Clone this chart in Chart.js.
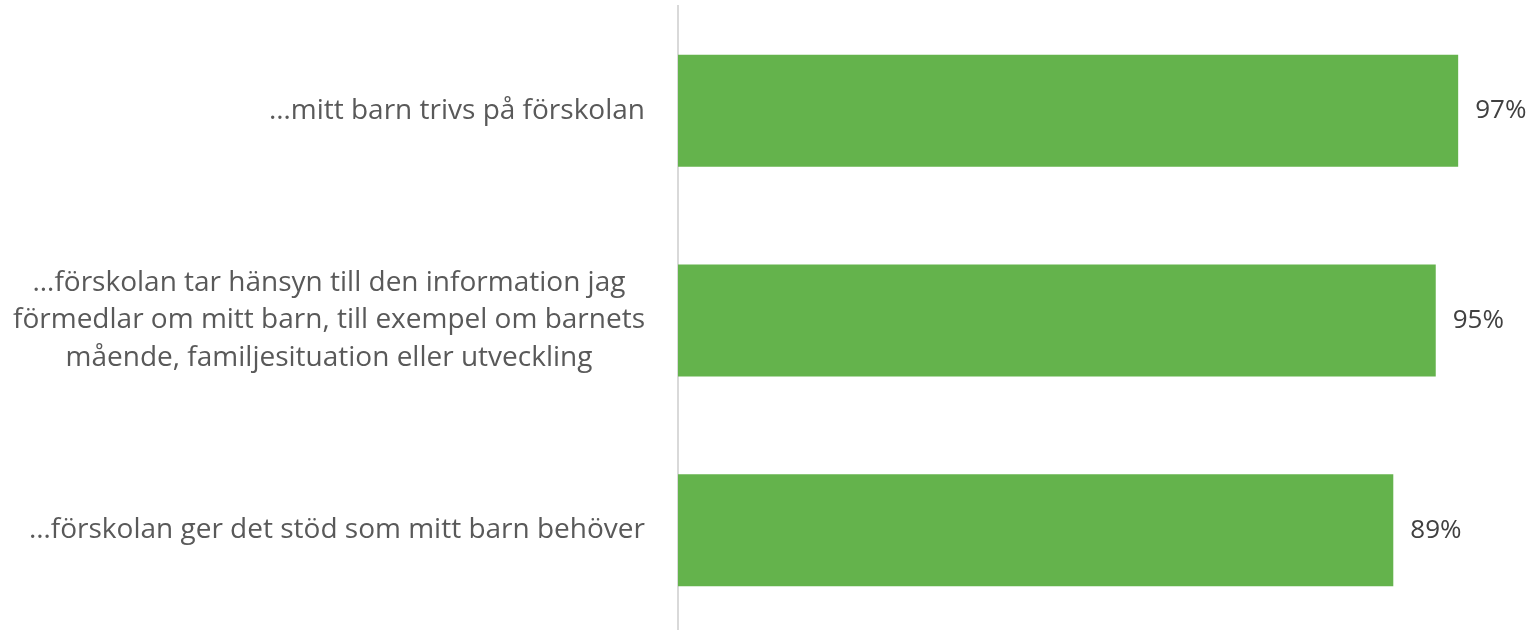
<!DOCTYPE html>
<html>
<head>
<meta charset="utf-8">
<script src="https://cdn.jsdelivr.net/npm/chart.js@4.4.1/dist/chart.umd.min.js"></script>
<style>
    html, body { margin: 0; padding: 0; background: #ffffff; overflow: hidden; }
    #wrap { width: 1532px; height: 640px; position: relative; }
</style>
</head>
<body>
<div id="wrap"><canvas id="barChart"></canvas></div>
<script>
// Survey statements (each entry = lines of the label)
const categories = [
    ['…mitt barn trivs på förskolan'],
    ['…förskolan tar hänsyn till den information jag', 'förmedlar om mitt barn, till exempel om barnets', 'mående, familjesituation eller utveckling'],
    ['…förskolan ger det stöd som mitt barn behöver']
];
// Share agreeing (%)
const values = [97.4, 94.6, 89.3];

const labelFont = '28px "Open Sans"';
const valueFont = '26px "Open Sans"';
const labelColor = '#595959';
const valueColor = '#404040';

// Category labels: each label centred on its own widest line, right edge next to the axis
const categoryLabels = {
    id: 'categoryLabels',
    afterDraw(chart) {
        const ctx = chart.ctx;
        const yScale = chart.scales.y;
        const axisX = chart.chartArea.left;
        const lineHeight = 37.5;
        ctx.save();
        ctx.font = labelFont;
        ctx.fillStyle = labelColor;
        ctx.textAlign = 'center';
        ctx.textBaseline = 'middle';
        categories.forEach((lines, i) => {
            const widest = Math.max(...lines.map(l => ctx.measureText(l).width));
            const cx = axisX - 33 - widest / 2;
            const cy = yScale.getPixelForTick(i);
            const startY = cy - (lines.length - 1) * lineHeight / 2;
            lines.forEach((line, j) => ctx.fillText(line, cx, startY + j * lineHeight));
        });
        ctx.restore();
    }
};

// Value labels at the end of each bar
const valueLabels = {
    id: 'valueLabels',
    afterDatasetsDraw(chart) {
        const ctx = chart.ctx;
        const meta = chart.getDatasetMeta(0);
        ctx.save();
        ctx.font = valueFont;
        ctx.fillStyle = valueColor;
        ctx.textAlign = 'left';
        ctx.textBaseline = 'middle';
        meta.data.forEach((bar, i) => {
            ctx.fillText(Math.round(values[i]) + '%', bar.x + 17, bar.y);
        });
        ctx.restore();
    }
};

function initChart() {
    const ctx = document.getElementById('barChart');

    new Chart(ctx, {
        type: 'bar',
        data: {
            labels: categories,
            datasets: [{
                data: values,
                backgroundColor: '#64b34c',
                borderWidth: 0,
                categoryPercentage: 1,
                barPercentage: 0.534
            }]
        },
        options: {
            indexAxis: 'y',
            responsive: true,
            maintainAspectRatio: false,
            animation: false,
            layout: {
                padding: { top: 6, right: 53, bottom: 5, left: 0 }
            },
            plugins: {
                legend: { display: false },
                tooltip: { enabled: false }
            },
            scales: {
                x: {
                    min: 0,
                    max: 100,
                    display: false
                },
                y: {
                    grid: { display: false },
                    border: { display: true, color: '#d9d9d9', width: 2 },
                    ticks: { display: false },
                    afterFit(scale) {
                        scale.width = 678;
                    }
                }
            }
        },
        plugins: [categoryLabels, valueLabels]
    });
}

document.addEventListener('DOMContentLoaded', initChart);
</script>
</body>
</html>
